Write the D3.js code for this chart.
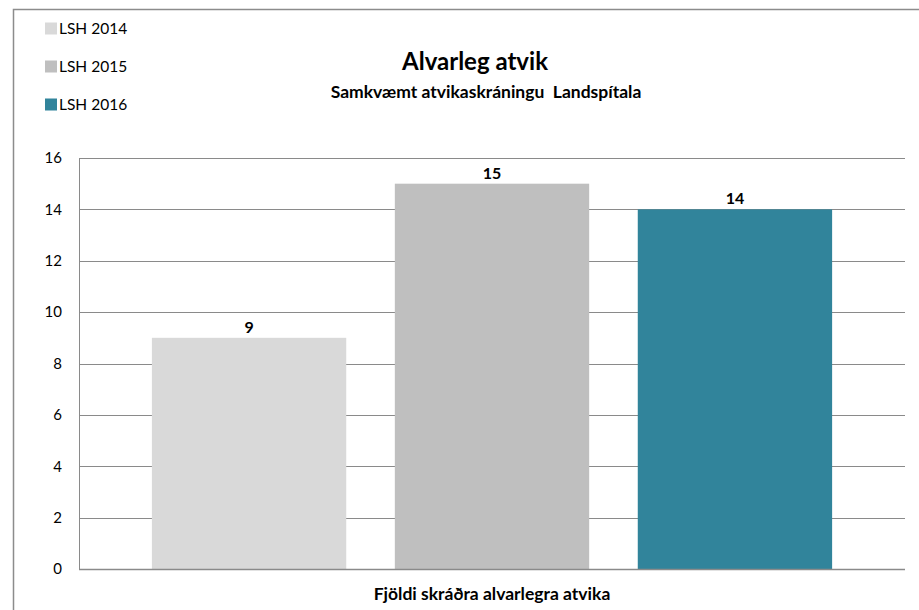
<!DOCTYPE html>
<html><head><meta charset="utf-8">
<script src="https://cdn.jsdelivr.net/npm/d3@7"></script>
<style>body{margin:0;background:#fff}svg{display:block;font-family:Lato,"Open Sans",sans-serif}</style>
</head><body>
<svg id="c" width="919" height="610"></svg>
<script>
const series = ["LSH 2014", "LSH 2015", "LSH 2016"];
const values = [9, 15, 14];
const colors = ["#d9d9d9", "#bfbfbf", "#31849b"];
const yTicks = [0, 2, 4, 6, 8, 10, 12, 14, 16];
const category = "Fjöldi skráðra alvarlegra atvika";
const title = "Alvarleg atvik";
const subtitle = "Samkvæmt atvikaskráningu  Landspítala";

const svg = d3.select("#c");
svg.append("rect").attr("x", 13.5).attr("y", 9.5).attr("width", 1000).attr("height", 1000)
  .attr("fill", "none").attr("stroke", "#8c8c8c").attr("stroke-width", 1.5);

const L = 79, R = 905, T = 158, B = 569;
const y = d3.scaleLinear().domain([0, 16]).range([B, T]);
const x = d3.scaleBand().domain(series).range([L, R]).paddingInner(0.2).paddingOuter(0.3);

svg.append("g").selectAll("line").data(yTicks).join("line")
  .attr("x1", L).attr("x2", R).attr("y1", d => Math.round(y(d)) + 0.5).attr("y2", d => Math.round(y(d)) + 0.5)
  .attr("stroke", "#8a8a8a").attr("stroke-width", 1);

svg.append("g").selectAll("rect").data(series).join("rect")
  .attr("x", d => x(d)).attr("width", x.bandwidth())
  .attr("y", (d, i) => y(values[i])).attr("height", (d, i) => y(0) - y(values[i]))
  .attr("fill", (d, i) => colors[i]);

svg.append("line").attr("x1", L + 0.5).attr("x2", L + 0.5).attr("y1", T).attr("y2", B + 1)
  .attr("stroke", "#8a8a8a");
svg.append("line").attr("x1", L).attr("x2", R).attr("y1", B + 0.5).attr("y2", B + 0.5)
  .attr("stroke", "#8a8a8a").attr("stroke-width", 1.5);

const yAxis = d3.axisLeft(y).tickValues(yTicks).tickSize(0).tickPadding(17);
const ya = svg.append("g").attr("transform", `translate(${L},0)`).call(yAxis);
ya.select(".domain").remove();
ya.selectAll("text").attr("font-size", 15).attr("fill", "#000").attr("font-family", "Lato, sans-serif");

svg.append("g").selectAll("text").data(series).join("text")
  .attr("x", d => x(d) + x.bandwidth() / 2).attr("y", (d, i) => y(values[i]) - 5)
  .attr("text-anchor", "middle").attr("font-size", 16).attr("font-weight", "bold")
  .text((d, i) => values[i]);

svg.append("text").attr("x", (L + R) / 2).attr("y", 600).attr("text-anchor", "middle")
  .attr("font-size", 17.5).attr("font-weight", "bold").text(category);

svg.append("text").attr("x", 475).attr("y", 70).attr("text-anchor", "middle")
  .attr("font-size", 24).attr("font-weight", "bold").text(title);
svg.append("text").attr("x", 486).attr("y", 98).attr("text-anchor", "middle")
  .attr("font-size", 17.5).attr("font-weight", "bold").style("white-space", "pre").text(subtitle);

const lg = svg.append("g").selectAll("g").data(series).join("g")
  .attr("transform", (d, i) => `translate(45,${28 + i * 38})`);
lg.append("rect").attr("x", 0).attr("y", -5.5).attr("width", 12).attr("height", 12).attr("fill", (d, i) => colors[i]);
lg.append("text").attr("x", 14).attr("y", 5.5).attr("font-size", 15.5).text(d => d);
</script>
</body></html>
